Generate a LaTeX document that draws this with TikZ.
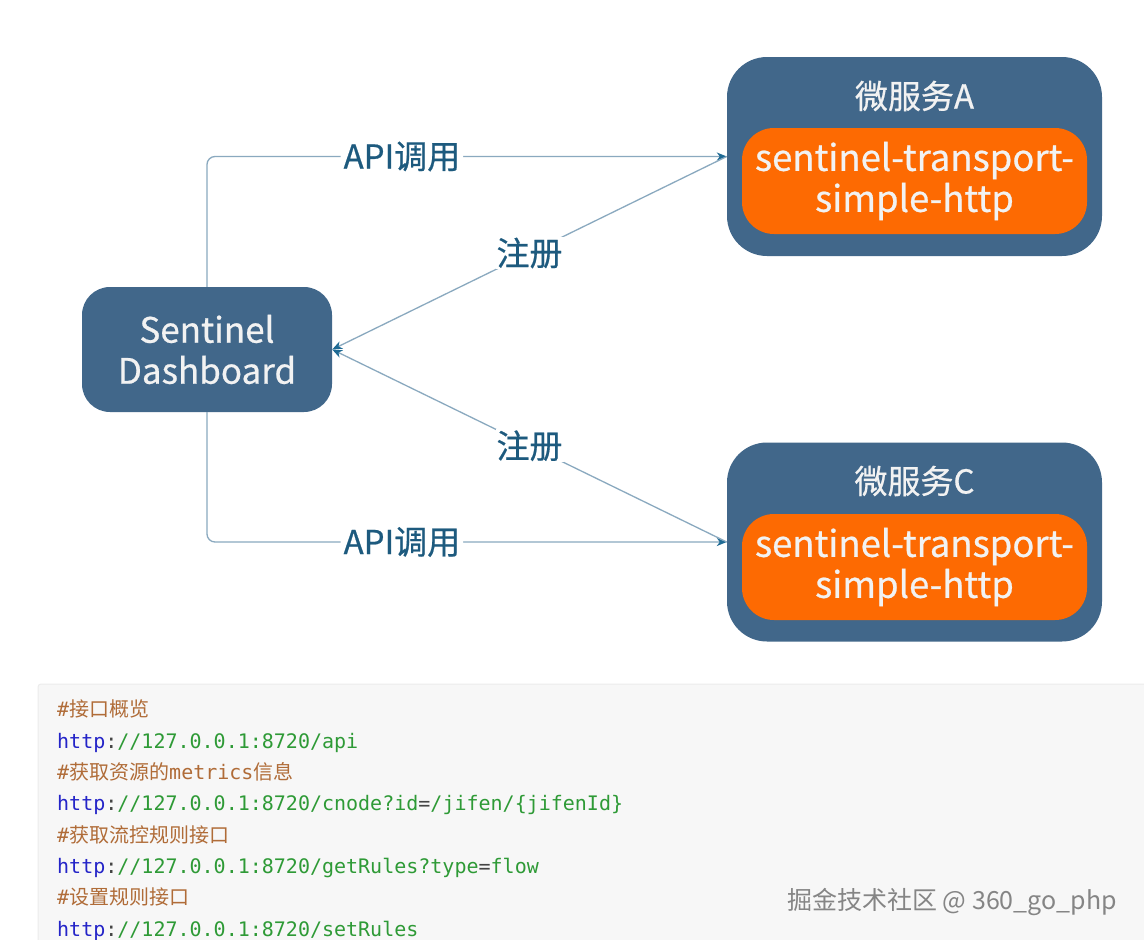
\documentclass[tikz,border=0pt]{standalone}
\usepackage{fontspec}
\setmainfont{Noto Sans CJK SC}
\newfontfamily\cjk{Noto Sans CJK SC}
\newfontfamily\cjkm[FakeBold=0.6]{Noto Sans CJK SC}
\newfontfamily\codefont{DejaVu Sans Mono}
\usetikzlibrary{arrows.meta}
\definecolor{boxblue}{HTML}{41678A}
\definecolor{orangefill}{HTML}{FD6A02}
\definecolor{linec}{HTML}{8AA9BF}
\definecolor{tipc}{HTML}{1E6A94}
\definecolor{lblc}{HTML}{1D5A7E}
\definecolor{codebg}{HTML}{F7F7F7}
\definecolor{codeborder}{HTML}{ECECEC}
\definecolor{cmtc}{HTML}{B06C38}
\definecolor{kwc}{HTML}{2424C8}
\definecolor{strc}{HTML}{2E9A36}
\definecolor{punc}{HTML}{444444}
\definecolor{wmc}{HTML}{858585}
\newcommand\zh[1]{{\cjk #1}}
\newcommand\hp{\textcolor{kwc}{http}\textcolor{punc}{:}}
\begin{document}
\begin{tikzpicture}[x=1pt,y=-1pt,
  svcbox/.style={draw=none,fill=boxblue,rounded corners=40pt,minimum width=375pt,minimum height=199pt},
  dashbox/.style={draw=none,fill=boxblue,rounded corners=28pt,minimum width=250pt,minimum height=125pt,
     text=white!95!black,align=center,font=\cjkm\fontsize{35}{41}\selectfont},
  orangebox/.style={draw=none,fill=orangefill,rounded corners=32pt,minimum width=345pt,minimum height=106pt,
     text=white!95!black,align=center,font=\cjkm\fontsize{36.5}{41}\selectfont},
  svctitle/.style={text=white!95!black,font=\cjkm\fontsize{33}{33}\selectfont},
  conn/.style={draw=linec,line width=1.3pt,-{Stealth[length=10pt,width=8pt,inset=3pt,color=tipc]}},
  lbl/.style={fill=white,text=lblc,inner sep=3pt,font=\cjkm\fontsize{33}{33}\selectfont},
  codeline/.style={anchor=base west,inner sep=0pt,font=\codefont\fontsize{20}{20}\selectfont},
]
\useasboundingbox (0,0) rectangle (1144,940);
\fill[white] (0,0) rectangle (1144,940);

% nodes
\node[dashbox] (dash) at (207,349.5) {Sentinel\\Dashboard};
\node[svcbox] (svcA) at (914.5,156.5) {};
\node[svctitle] (titleA) at (914.5,96) {微服务A};
\node[orangebox] (httpA) at (914.5,181) {sentinel-transport-\\simple-http};
\node[svcbox] (svcC) at (914.5,542) {};
\node[svctitle] (titleC) at (914.5,481) {微服务C};
\node[orangebox] (httpC) at (914.5,567) {sentinel-transport-\\simple-http};

% connectors
\draw[conn,rounded corners=8pt] (dash.north) |- node[lbl,pos=0.6875] (apiA) {API调用} (svcA.west);
\draw[conn,rounded corners=8pt] (dash.south) |- node[lbl,pos=0.6875] (apiC) {API调用} (svcC.west);
\draw[conn] (svcA.west) -- node[lbl,inner sep=1pt] (regA) {注册} (dash.east);
\draw[conn] (svcC.west) -- node[lbl,inner sep=1pt] (regC) {注册} (dash.east);

% code block
\filldraw[fill=codebg,draw=codeborder,line width=1pt,rounded corners=3pt] (38,684) rectangle (1150,945);
\node[codeline,text=cmtc] (c1) at (57,716.5) {\#\zh{接口概览}};
\node[codeline,text=strc] (c2) at (57,748) {\hp//127.0.0.1:8720/api};
\node[codeline,text=cmtc] (c3) at (57,779) {\#\zh{获取资源的}metrics\zh{信息}};
\node[codeline,text=strc] (c4) at (57,810.5) {\hp//127.0.0.1:8720/cnode?id\textcolor{punc}{=}/jifen/\{jifenId\}};
\node[codeline,text=cmtc] (c5) at (57,842) {\#\zh{获取流控规则接口}};
\node[codeline,text=strc] (c6) at (57,873) {\hp//127.0.0.1:8720/getRules?type\textcolor{punc}{=}flow};
\node[codeline,text=cmtc] (c7) at (57,904.5) {\#\zh{设置规则接口}};
\node[codeline,text=strc] (c8) at (57,936) {\hp//127.0.0.1:8720/setRules};

% watermark
\node[anchor=base east,inner sep=0pt,text=wmc,font=\fontsize{25}{25}\selectfont] (wm) at (1117,909) {掘金技术社区 @ 360\_go\_php};
\end{tikzpicture}
\end{document}
